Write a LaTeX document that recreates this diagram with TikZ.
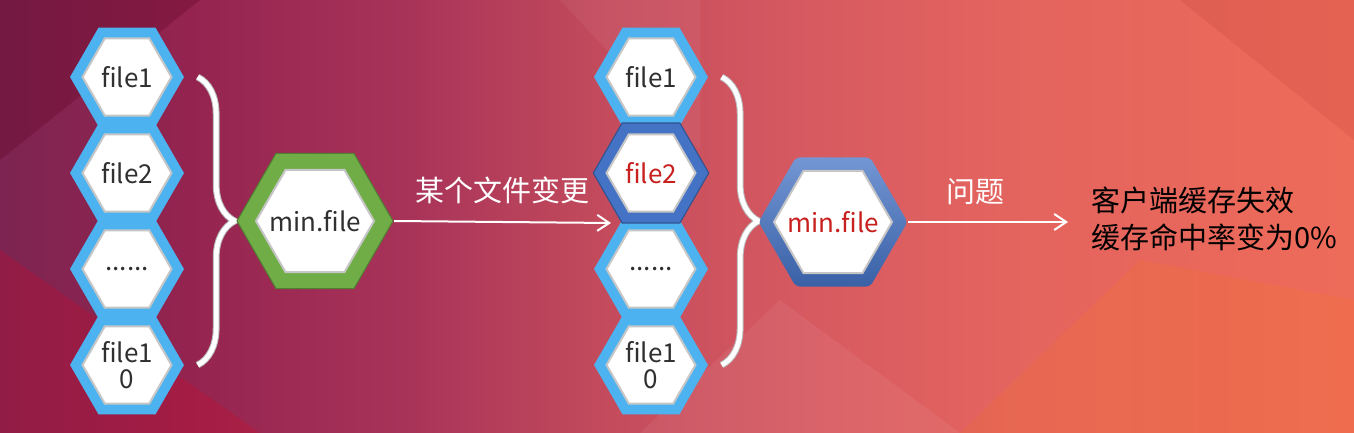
\documentclass[tikz,border=0pt]{standalone}
\usepackage{fontspec}
\setmainfont{Noto Sans CJK SC}
\usetikzlibrary{shapes.geometric,decorations.pathreplacing,arrows.meta}

\definecolor{skyblue}{HTML}{4DB3F0}
\definecolor{leafgreen}{HTML}{70AD47}
\definecolor{darkgreen}{HTML}{507E32}
\definecolor{royal}{HTML}{4472C4}
\definecolor{navy}{HTML}{2F528F}
\definecolor{alert}{HTML}{C8201E}
\definecolor{ink}{HTML}{303030}
\pgfdeclarehorizontalshading{slide}{100bp}{rgb(0bp)=(0.49,0.14,0.32); rgb(25bp)=(0.49,0.14,0.32);
  rgb(32bp)=(0.58,0.14,0.31); rgb(40bp)=(0.66,0.20,0.35); rgb(47bp)=(0.76,0.29,0.36);
  rgb(54.5bp)=(0.84,0.35,0.38); rgb(62bp)=(0.89,0.39,0.37); rgb(75bp)=(0.93,0.42,0.35); rgb(100bp)=(0.93,0.42,0.35)}

\tikzset{
  cell/.style={regular polygon, regular polygon sides=6, minimum size=44.5pt, inner sep=0pt,
    fill=white, draw=gray!45, line width=1pt, text=ink, align=center,
    font=\fontsize{13}{13}\selectfont, preaction={draw=skyblue, line width=10.8pt}},
  hotcell/.style={cell, text=alert, preaction={draw=navy, line width=12pt}, preaction={draw=royal, line width=10.8pt}},
  bigcell/.style={regular polygon, regular polygon sides=6, minimum size=59pt, inner sep=0pt,
    fill=white, draw=gray!45, line width=1pt, text=ink, font=\fontsize{13}{13}\selectfont},
  curly/.style={decorate, decoration={brace, amplitude=18.5pt}, draw=gray!55, double=white, double distance=2.4pt, line width=0.5pt},
  flow/.style={draw=white, line width=1pt, -{Straight Barb[length=6pt, width=8pt]}},
  tag/.style={text=white, font=\fontsize{14.5}{14.5}\selectfont}
}

\begin{document}
\begin{tikzpicture}[x=0.5pt, y=-0.5pt]
    \useasboundingbox (0,0) rectangle (1354,433);
    % background
    \shade[shading=slide] (0,0) rectangle (1354,433);
    \fill[fill=black!50!purple, opacity=0.3] (0,0) -- (200,0) -- (0,160) -- cycle;
    \fill[fill=red!60!purple, opacity=0.2] (0,433) -- (0,250) -- (260,433) -- cycle;
    \fill[fill=white, opacity=0.05] (560,0) -- (700,0) -- (700,150) -- cycle;
    \fill[fill=white, opacity=0.06] (640,433) -- (780,300) -- (960,433) -- cycle;
    \fill[fill=orange, opacity=0.12] (960,433) -- (1140,260) -- (1354,300) -- (1354,433) -- cycle;
    \fill[fill=black!50!red, opacity=0.08] (1180,0) -- (1354,0) -- (1354,140) -- cycle;

    % first set of files
    \foreach \i/\y/\t in {1/77/file1, 2/173/file2, 3/269/{......}, 4/365/{file1\\0}}
    \node[cell] (a\i) at (127,\y) {\t};
    \draw[curly] ([xshift=12.5pt]a1.east) -- ([xshift=12.5pt]a4.east);
    \node[bigcell, preaction={draw=darkgreen, line width=17pt}, preaction={draw=leafgreen, line width=15.8pt}] (min1) at (315,221) {\makebox[0pt]{min.file}};

    % second set of files, file2 changed
    \foreach \i/\y/\t in {1/77/file1, 3/269/{......}, 4/365/{file1\\0}}
    \node[cell] (b\i) at (651,\y) {\t};
    \node[hotcell] (b2) at (651,173) {file2};
    \draw[curly] ([xshift=12.5pt]b1.east) -- ([xshift=12.5pt]b4.east);
    \node[regular polygon, regular polygon sides=6, minimum size=74.5pt, inner sep=0pt, rounded corners=2pt,
      top color=royal!75!white, bottom color=royal!85!black] (min2ring) at (833,222) {};
    \node[bigcell, text=alert] (min2) at (min2ring) {\makebox[0pt]{min.file}};

    % arrows
    \coordinate (hit) at (611,223);
    \coordinate (out) at (1068,222);
    \draw[flow] ([xshift=9.5pt]min1.east) -- node[tag, above=5pt] {某个文件变更} (hit);
    \draw[flow] (min2ring.east) -- node[tag, above=5pt, pos=0.42] {问题} (out);
    \node[anchor=west, align=left, text=black, font=\fontsize{14.5}{18.5}\selectfont] (res) at (1084,219) {客户端缓存失效\\缓存命中率变为0\%};
\end{tikzpicture}
\end{document}
